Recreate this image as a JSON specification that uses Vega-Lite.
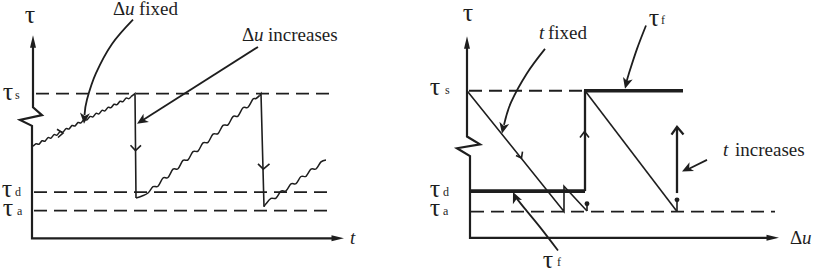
{
 "$schema": "https://vega.github.io/schema/vega-lite/v6.json",
 "width": 817, "height": 273,
 "autosize": {"type": "fit", "contains": "padding"},
 "padding": 0,
 "background": "white",
 "config": {"view": {"stroke": null}},
 "encoding": {
  "x": {"field": "x", "type": "quantitative", "scale": {"domain": [0, 817], "nice": false, "zero": false}, "axis": null},
  "y": {"field": "y", "type": "quantitative", "scale": {"domain": [0, 273], "nice": false, "zero": false, "reverse": true}, "axis": null}
 },
 "layer": [
  {
   "data": {"values": [
    {"id": "Ls", "x": 36, "y": 91}, {"id": "Ls", "x": 333, "y": 91},
    {"id": "Ld", "x": 34, "y": 192}, {"id": "Ld", "x": 333, "y": 192},
    {"id": "La", "x": 34, "y": 211}, {"id": "La", "x": 333, "y": 211},
    {"id": "Rs", "x": 469, "y": 88}, {"id": "Rs", "x": 585, "y": 88},
    {"id": "Ra", "x": 471, "y": 212}, {"id": "Ra", "x": 775, "y": 212}
   ]},
   "mark": {"type": "line", "color": "#1e1e1e", "strokeWidth": 1.8, "strokeDash": [13, 7]},
   "encoding": {"detail": {"field": "id"}, "order": {"value": null}}
  },
  {
   "data": {"values": [
    {"id": "L", "x": 33, "y": 40}, {"id": "L", "x": 33, "y": 105}, {"id": "L", "x": 42, "y": 113}, {"id": "L", "x": 20, "y": 118}, {"id": "L", "x": 32, "y": 124}, {"id": "L", "x": 32, "y": 239.5}, {"id": "L", "x": 336, "y": 239.5},
    {"id": "R", "x": 467, "y": 40}, {"id": "R", "x": 467, "y": 135}, {"id": "R", "x": 480, "y": 143}, {"id": "R", "x": 457, "y": 147}, {"id": "R", "x": 470, "y": 155}, {"id": "R", "x": 470, "y": 239}, {"id": "R", "x": 770, "y": 239}
   ]},
   "mark": {"type": "line", "color": "#1e1e1e", "strokeWidth": 2.2},
   "encoding": {"detail": {"field": "id"}, "order": {"value": null}}
  },
  {
   "data": {"values": [
    {"id": "S1", "x": 131, "y": 94}, {"id": "S1", "x": 135, "y": 91}, {"id": "S1", "x": 136, "y": 198},
    {"id": "S2", "x": 259.5, "y": 93}, {"id": "S2", "x": 261, "y": 91}, {"id": "S2", "x": 264, "y": 207},
    {"id": "D1", "x": 467, "y": 88}, {"id": "D1", "x": 564, "y": 212}, {"id": "D1", "x": 564, "y": 186}, {"id": "D1", "x": 587, "y": 211.5},
    {"id": "D3", "x": 585, "y": 88}, {"id": "D3", "x": 677, "y": 212},
    {"id": "St1", "x": 587, "y": 211.5}, {"id": "St1", "x": 587, "y": 204},
    {"id": "St2", "x": 677, "y": 212}, {"id": "St2", "x": 677, "y": 200},
    {"id": "C1", "x": 130.5, "y": 144}, {"id": "C1", "x": 135.5, "y": 149.5}, {"id": "C1", "x": 141, "y": 144},
    {"id": "C2", "x": 258, "y": 163}, {"id": "C2", "x": 263.3, "y": 168.5}, {"id": "C2", "x": 269.5, "y": 163},
    {"id": "C3", "x": 57, "y": 127.5}, {"id": "C3", "x": 63, "y": 131.5}, {"id": "C3", "x": 58, "y": 136},
    {"id": "C4", "x": 580, "y": 136}, {"id": "C4", "x": 584.5, "y": 130}, {"id": "C4", "x": 589, "y": 136},
    {"id": "C5", "x": 516, "y": 154.5}, {"id": "C5", "x": 521.5, "y": 157}, {"id": "C5", "x": 522.5, "y": 150.5}
   ]},
   "mark": {"type": "line", "color": "#1e1e1e", "strokeWidth": 1.6},
   "encoding": {"detail": {"field": "id"}, "order": {"value": null}}
  },
  {
   "data": {"values": [
    {"id": "V1", "x": 585, "y": 191}, {"id": "V1", "x": 585, "y": 88},
    {"id": "V2", "x": 677, "y": 193}, {"id": "V2", "x": 677, "y": 126},
    {"id": "C6", "x": 671.5, "y": 133}, {"id": "C6", "x": 677, "y": 125}, {"id": "C6", "x": 683.5, "y": 133}
   ]},
   "mark": {"type": "line", "color": "#1e1e1e", "strokeWidth": 2.3},
   "encoding": {"detail": {"field": "id"}, "order": {"value": null}}
  },
  {
   "data": {"values": [
    {"id": "T1", "x": 470, "y": 191}, {"id": "T1", "x": 585, "y": 191},
    {"id": "T2", "x": 584, "y": 88}, {"id": "T2", "x": 683, "y": 88}
   ]},
   "mark": {"type": "line", "color": "#1e1e1e", "strokeWidth": 3.6, "strokeCap": "butt"},
   "encoding": {"detail": {"field": "id"}, "order": {"value": null}}
  },
  {
   "data": {"values": [
    {"id": "W1", "x": 33, "y": 145}, {"id": "W1", "x": 36, "y": 142.4}, {"id": "W1", "x": 39, "y": 142.9}, {"id": "W1", "x": 42, "y": 139.3}, {"id": "W1", "x": 45, "y": 139.8}, {"id": "W1", "x": 48, "y": 136.2}, {"id": "W1", "x": 51, "y": 136.6}, {"id": "W1", "x": 54, "y": 133.1}, {"id": "W1", "x": 57, "y": 133.5}, {"id": "W1", "x": 60, "y": 130.0}, {"id": "W1", "x": 63, "y": 130.4}, {"id": "W1", "x": 66, "y": 126.8}, {"id": "W1", "x": 69, "y": 127.3}, {"id": "W1", "x": 72, "y": 123.7}, {"id": "W1", "x": 75, "y": 124.2}, {"id": "W1", "x": 78, "y": 120.6}, {"id": "W1", "x": 81, "y": 121.0}, {"id": "W1", "x": 84, "y": 117.5}, {"id": "W1", "x": 87, "y": 117.9}, {"id": "W1", "x": 90, "y": 114.4}, {"id": "W1", "x": 93, "y": 114.8}, {"id": "W1", "x": 96, "y": 111.2}, {"id": "W1", "x": 99, "y": 111.7}, {"id": "W1", "x": 102, "y": 108.1}, {"id": "W1", "x": 105, "y": 108.6}, {"id": "W1", "x": 108, "y": 105.0}, {"id": "W1", "x": 111, "y": 105.4}, {"id": "W1", "x": 114, "y": 101.9}, {"id": "W1", "x": 117, "y": 102.3}, {"id": "W1", "x": 120, "y": 98.8}, {"id": "W1", "x": 123, "y": 99.2}, {"id": "W1", "x": 126, "y": 95.6}, {"id": "W1", "x": 129, "y": 96.1}, {"id": "W1", "x": 131, "y": 94},
    {"id": "W2", "x": 136, "y": 198}, {"id": "W2", "x": 142, "y": 196}, {"id": "W2", "x": 148, "y": 193}, {"id": "W2", "x": 153, "y": 186.5}, {"id": "W2", "x": 158, "y": 186.0}, {"id": "W2", "x": 163, "y": 177.5}, {"id": "W2", "x": 168, "y": 177.0}, {"id": "W2", "x": 173, "y": 168.5}, {"id": "W2", "x": 178, "y": 168.0}, {"id": "W2", "x": 183, "y": 159.5}, {"id": "W2", "x": 188, "y": 159.0}, {"id": "W2", "x": 193, "y": 150.5}, {"id": "W2", "x": 198, "y": 150.0}, {"id": "W2", "x": 203, "y": 141.5}, {"id": "W2", "x": 208, "y": 141.0}, {"id": "W2", "x": 213, "y": 132.5}, {"id": "W2", "x": 218, "y": 132.0}, {"id": "W2", "x": 223, "y": 123.5}, {"id": "W2", "x": 228, "y": 123.0}, {"id": "W2", "x": 233, "y": 114.5}, {"id": "W2", "x": 238, "y": 114.0}, {"id": "W2", "x": 243, "y": 105.5}, {"id": "W2", "x": 248, "y": 105.0}, {"id": "W2", "x": 253, "y": 96.5}, {"id": "W2", "x": 256, "y": 96.0}, {"id": "W2", "x": 259.5, "y": 93},
    {"id": "W3", "x": 264, "y": 207}, {"id": "W3", "x": 266, "y": 204}, {"id": "W3", "x": 271, "y": 198.5}, {"id": "W3", "x": 276, "y": 198.3}, {"id": "W3", "x": 281, "y": 191.0}, {"id": "W3", "x": 286, "y": 190.8}, {"id": "W3", "x": 291, "y": 183.5}, {"id": "W3", "x": 296, "y": 183.3}, {"id": "W3", "x": 301, "y": 176.0}, {"id": "W3", "x": 306, "y": 175.8}, {"id": "W3", "x": 311, "y": 168.5}, {"id": "W3", "x": 316, "y": 168.3}, {"id": "W3", "x": 321, "y": 161.0}, {"id": "W3", "x": 326, "y": 159}
   ]},
   "mark": {"type": "line", "color": "#1e1e1e", "strokeWidth": 1.5, "interpolate": "cardinal"},
   "encoding": {"detail": {"field": "id"}, "order": {"value": null}}
  },
  {
   "data": {"values": [
    {"id": "A1", "x": 133, "y": 15}, {"id": "A1", "x": 112, "y": 40}, {"id": "A1", "x": 96, "y": 70}, {"id": "A1", "x": 87, "y": 97}, {"id": "A1", "x": 84.5, "y": 113},
    {"id": "A2", "x": 258, "y": 43}, {"id": "A2", "x": 143, "y": 118},
    {"id": "A3", "x": 545, "y": 45}, {"id": "A3", "x": 527, "y": 70}, {"id": "A3", "x": 511, "y": 100}, {"id": "A3", "x": 504, "y": 123},
    {"id": "A4", "x": 646, "y": 21}, {"id": "A4", "x": 637, "y": 45}, {"id": "A4", "x": 629, "y": 70}, {"id": "A4", "x": 626.5, "y": 79},
    {"id": "A5", "x": 558, "y": 252}, {"id": "A5", "x": 540, "y": 228}, {"id": "A5", "x": 524, "y": 208}, {"id": "A5", "x": 517, "y": 199},
    {"id": "A6", "x": 707, "y": 159}, {"id": "A6", "x": 689, "y": 168}
   ]},
   "mark": {"type": "line", "color": "#1e1e1e", "strokeWidth": 1.8, "interpolate": "cardinal"},
   "encoding": {"detail": {"field": "id"}, "order": {"value": null}}
  },
  {
   "data": {"values": [{"x": 84, "y": 122}]},
   "mark": {"type": "point", "shape": "M0,0L0.5,1.1L0,0.8L-0.5,1.1Z", "filled": true, "size": 400, "angle": 185, "color": "#1e1e1e", "opacity": 1, "strokeWidth": 0}
  },
  {
   "data": {"values": [{"x": 137, "y": 122}]},
   "mark": {"type": "point", "shape": "M0,0L0.5,1.1L0,0.8L-0.5,1.1Z", "filled": true, "size": 400, "angle": 237, "color": "#1e1e1e", "opacity": 1, "strokeWidth": 0}
  },
  {
   "data": {"values": [{"x": 502, "y": 132}]},
   "mark": {"type": "point", "shape": "M0,0L0.5,1.1L0,0.8L-0.5,1.1Z", "filled": true, "size": 400, "angle": 192, "color": "#1e1e1e", "opacity": 1, "strokeWidth": 0}
  },
  {
   "data": {"values": [{"x": 625, "y": 86}]},
   "mark": {"type": "point", "shape": "M0,0L0.5,1.1L0,0.8L-0.5,1.1Z", "filled": true, "size": 400, "angle": 195, "color": "#1e1e1e", "opacity": 1, "strokeWidth": 0}
  },
  {
   "data": {"values": [{"x": 513, "y": 192}]},
   "mark": {"type": "point", "shape": "M0,0L0.5,1.1L0,0.8L-0.5,1.1Z", "filled": true, "size": 400, "angle": 336, "color": "#1e1e1e", "opacity": 1, "strokeWidth": 0}
  },
  {
   "data": {"values": [{"x": 682, "y": 171}]},
   "mark": {"type": "point", "shape": "M0,0L0.5,1.1L0,0.8L-0.5,1.1Z", "filled": true, "size": 400, "angle": 243, "color": "#1e1e1e", "opacity": 1, "strokeWidth": 0}
  },
  {
   "data": {"values": [{"x": 33, "y": 31}, {"x": 467, "y": 32}]},
   "mark": {"type": "point", "shape": "M0,0L0.3,1.25L-0.3,1.25Z", "filled": true, "size": 400, "angle": 0, "color": "#1e1e1e", "opacity": 1, "strokeWidth": 0}
  },
  {
   "data": {"values": [{"x": 344, "y": 239.5}, {"x": 779, "y": 239}]},
   "mark": {"type": "point", "shape": "M0,0L0.3,1.25L-0.3,1.25Z", "filled": true, "size": 400, "angle": 90, "color": "#1e1e1e", "opacity": 1, "strokeWidth": 0}
  },
  {
   "data": {"values": [{"x": 587, "y": 204}, {"x": 677, "y": 200}]},
   "mark": {"type": "point", "shape": "circle", "filled": true, "size": 24, "color": "#1e1e1e", "opacity": 1, "strokeWidth": 0}
  },
  {
   "data": {"values": [
    {"x": 30, "y": 18, "t": "τ"}, {"x": 8, "y": 97, "t": "τ"}, {"x": 7, "y": 197, "t": "τ"}, {"x": 8, "y": 217, "t": "τ"},
    {"x": 468, "y": 16, "t": "τ"}, {"x": 435, "y": 92, "t": "τ"}, {"x": 435, "y": 197, "t": "τ"}, {"x": 435, "y": 217, "t": "τ"},
    {"x": 654, "y": 22, "t": "τ"}, {"x": 548, "y": 270, "t": "τ"}
   ]},
   "mark": {"type": "text", "font": "'Liberation Serif', 'Times New Roman', 'DejaVu Serif', serif", "fontSize": 26, "align": "center", "baseline": "alphabetic", "color": "#1e1e1e"},
   "encoding": {"text": {"field": "t"}}
  },
  {
   "data": {"values": [
    {"x": 15, "y": 96, "t": "s"}, {"x": 15, "y": 196, "t": "d"}, {"x": 17, "y": 216, "t": "a"},
    {"x": 445, "y": 91, "t": "s"}, {"x": 443, "y": 196, "t": "d"}, {"x": 443, "y": 216, "t": "a"},
    {"x": 661, "y": 19, "t": "f"}, {"x": 557, "y": 268, "t": "f"}
   ]},
   "mark": {"type": "text", "font": "'Liberation Serif', 'Times New Roman', 'DejaVu Serif', serif", "fontSize": 12, "align": "left", "baseline": "alphabetic", "color": "#1e1e1e"},
   "encoding": {"text": {"field": "t"}}
  },
  {
   "data": {"values": [
    {"x": 113, "y": 10, "t": "Δ"}, {"x": 139, "y": 10, "t": "fixed"},
    {"x": 242, "y": 37, "t": "Δ"}, {"x": 268, "y": 37, "t": "increases"},
    {"x": 548, "y": 35, "t": "fixed"}, {"x": 735, "y": 155, "t": "increases"},
    {"x": 790, "y": 245, "t": "Δ"}
   ]},
   "mark": {"type": "text", "font": "'Liberation Serif', 'Times New Roman', 'DejaVu Serif', serif", "fontSize": 19, "align": "left", "baseline": "alphabetic", "color": "#1e1e1e"},
   "encoding": {"text": {"field": "t"}}
  },
  {
   "data": {"values": [
    {"x": 125, "y": 10, "t": "u"}, {"x": 254, "y": 37, "t": "u"},
    {"x": 539, "y": 35, "t": "t"}, {"x": 723, "y": 155, "t": "t"},
    {"x": 802, "y": 245, "t": "u"}, {"x": 350, "y": 245, "t": "t"}
   ]},
   "mark": {"type": "text", "font": "'Liberation Serif', 'Times New Roman', 'DejaVu Serif', serif", "fontSize": 19, "fontStyle": "italic", "align": "left", "baseline": "alphabetic", "color": "#1e1e1e"},
   "encoding": {"text": {"field": "t"}}
  }
 ]
}
